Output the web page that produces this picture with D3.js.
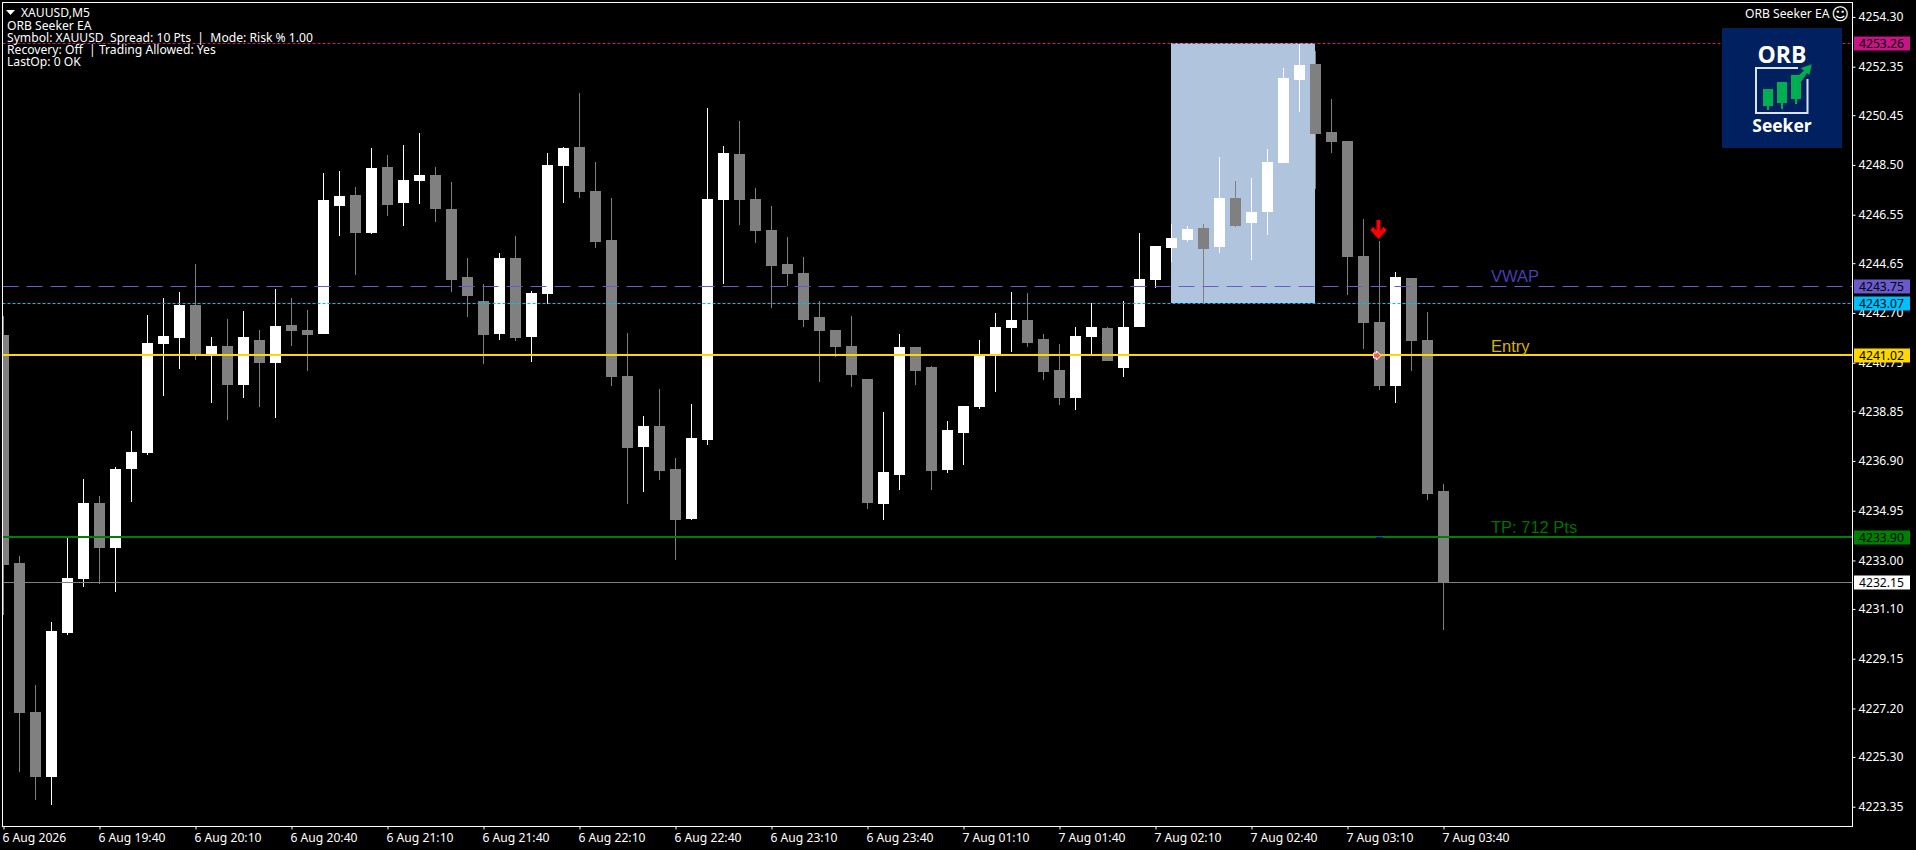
<!DOCTYPE html>
<html><head><meta charset="utf-8">
<script src="https://cdn.jsdelivr.net/npm/d3@7/dist/d3.min.js"></script>
<style>
html,body{margin:0;padding:0;background:#000;overflow:hidden}
svg{display:block}
text{white-space:pre}
.ui{font-family:"Noto Sans",sans-serif;font-size:12.15px;fill:#fff}
.tick text{font-family:"Noto Sans",sans-serif;font-size:12.15px;fill:#fff}
.lab{font-family:"Liberation Sans",Arial,sans-serif;font-size:16.5px}
</style></head><body><svg id="c" width="1916" height="850"></svg>
<script>
const priceTicks=[4254.30,4252.35,4250.45,4248.50,4246.55,4244.65,4242.70,4240.75,4238.85,4236.90,4234.95,4233.00,4231.10,4229.15,4227.20,4225.30,4223.35];
const timeTickIdx=[0,6,12,18,24,30,36,42,48,54,60,66,72,78,84,90];
const timeLabels=["6 Aug 2026","6 Aug 19:40","6 Aug 20:10","6 Aug 20:40","6 Aug 21:10","6 Aug 21:40","6 Aug 22:10","6 Aug 22:40","6 Aug 23:10","6 Aug 23:40","7 Aug 01:10","7 Aug 01:40","7 Aug 02:10","7 Aug 02:40","7 Aug 03:10","7 Aug 03:40"];
const open=[4241.84,4232.90,4227.06,4224.52,4230.16,4232.28,4235.25,4233.49,4236.59,4237.21,4241.48,4241.72,4243.01,4241.09,4241.41,4239.88,4241.64,4240.74,4242.23,4242.03,4241.88,4246.89,4247.32,4245.83,4248.42,4247.01,4247.87,4248.11,4246.77,4244.11,4243.17,4241.88,4244.85,4241.76,4243.44,4248.46,4249.20,4247.48,4245.56,4240.23,4237.45,4238.27,4236.59,4234.63,4237.72,4247.13,4248.93,4247.17,4245.95,4244.62,4244.27,4242.54,4242.03,4241.41,4240.11,4235.21,4236.35,4241.37,4240.58,4236.55,4238.00,4239.02,4241.01,4242.11,4242.42,4241.68,4240.47,4239.37,4241.76,4242.11,4240.54,4242.15,4243.99,4245.25,4245.56,4246.03,4245.29,4247.21,4246.23,4246.66,4248.58,4251.83,4252.46,4249.79,4249.44,4244.93,4242.35,4239.84,4244.07,4241.64,4235.72];
const high=[4242.58,4233.18,4228.12,4230.59,4233.88,4236.19,4235.53,4236.66,4238.08,4242.62,4243.29,4243.52,4244.62,4241.76,4242.46,4242.78,4242.03,4243.64,4243.29,4242.82,4248.18,4248.26,4247.64,4249.16,4248.89,4249.28,4249.75,4248.42,4247.83,4244.85,4243.83,4245.05,4245.72,4243.56,4248.97,4249.20,4251.32,4248.62,4247.21,4241.92,4238.66,4239.72,4237.02,4239.13,4250.73,4249.24,4250.22,4247.60,4246.89,4245.68,4244.89,4243.17,4242.03,4242.58,4240.11,4238.82,4241.88,4241.37,4240.62,4238.47,4239.05,4241.64,4242.70,4243.52,4243.48,4241.88,4241.48,4242.15,4243.09,4242.15,4243.17,4245.83,4245.32,4246.19,4246.11,4246.19,4248.81,4247.87,4247.99,4249.13,4252.30,4253.23,4252.97,4251.09,4249.44,4246.38,4245.52,4244.31,4244.07,4242.74,4236.00];
const low=[4230.87,4224.71,4223.62,4223.42,4230.08,4231.96,4232.08,4231.77,4235.29,4237.13,4239.45,4240.50,4240.86,4239.17,4238.51,4239.37,4239.02,4238.58,4241.41,4240.43,4241.88,4245.72,4244.19,4245.79,4246.50,4246.11,4246.97,4246.26,4243.52,4242.54,4240.70,4241.64,4241.60,4240.78,4243.05,4247.01,4247.21,4245.25,4239.84,4235.21,4235.68,4236.16,4233.02,4234.59,4237.53,4243.83,4246.15,4245.44,4242.90,4243.76,4242.15,4239.99,4240.97,4239.80,4235.02,4234.59,4235.76,4239.88,4235.76,4236.43,4236.74,4238.94,4239.60,4241.17,4241.37,4240.07,4239.09,4238.90,4241.09,4240.82,4240.19,4242.15,4243.68,4244.70,4245.48,4243.09,4245.05,4246.07,4244.78,4245.76,4248.58,4250.58,4247.56,4248.97,4243.40,4241.29,4239.68,4239.17,4240.43,4235.37,4230.28];
const close=[4232.82,4227.02,4224.52,4230.24,4232.31,4235.25,4233.49,4236.59,4237.25,4241.52,4241.80,4243.01,4241.09,4241.41,4239.88,4241.76,4240.74,4242.19,4241.99,4241.84,4247.13,4247.28,4245.83,4248.38,4246.93,4247.91,4248.11,4246.77,4243.99,4243.36,4241.84,4244.85,4241.72,4243.48,4248.50,4249.16,4247.44,4245.48,4240.19,4237.41,4238.25,4236.51,4234.59,4237.80,4247.17,4248.97,4247.13,4245.91,4244.54,4244.23,4242.42,4241.99,4241.37,4240.27,4235.25,4236.47,4241.37,4240.43,4236.51,4238.11,4239.05,4241.01,4242.15,4242.42,4241.52,4240.39,4239.37,4241.80,4242.15,4240.82,4242.15,4244.03,4245.32,4245.64,4245.99,4245.21,4247.21,4246.11,4246.66,4248.62,4251.91,4252.42,4249.71,4249.40,4244.89,4242.31,4239.84,4244.11,4241.60,4235.61,4232.15];
const levelPrices=[4253.26,4243.75,4243.07,4241.02,4233.90,4232.15];
const levelFlagColors=["#c71585","#6a5acd","#00bfff","#ffd700","#008000","#ffffff"];
const levelLineColors=["#c71585","#6a5acd","#00bfff","#ffd700","#008000","#808080"];
const levelWidths=[1,1,1,2,2,1];
const levelDashes=["3 2","16 8","3 2",null,null,null];
const levelTexts=["","VWAP","","Entry","TP: 712 Pts",""];
const levelTextColors=["","#4a3db0","","#d4b400","#007000",""];
const rangeBars=[73,82];
const rangeLow=4243.07,rangeHigh=4253.26;
const infoLines=["ORB Seeker EA","Symbol: XAUUSD  Spread: 10 Pts  |  Mode: Risk % 1.00","Recovery: Off  | Trading Allowed: Yes","LastOp: 0 OK"];

const W=1916,H=850,L=2.5,R=1852.5,T=2.5,B=826.5;
const svg=d3.select("#c");
svg.append("rect").attr("width",W).attr("height",H).attr("fill","#000");
const x=d3.scaleLinear().domain([0,90]).range([3.5,1443.5]);
const y=d3.scaleLinear().domain([4252.35,4223.35]).range([66.7,806.7]);
const ry=p=>Math.round(y(p));
const rowY=(p,w)=>Math.floor(y(p))+(w%2?.5:0);
svg.append("defs").append("clipPath").attr("id","plot").append("rect").attr("x",L).attr("y",T).attr("width",R-L).attr("height",B-T);
const plot=svg.append("g").attr("clip-path","url(#plot)");
// opening range box
plot.append("rect").attr("x",x(rangeBars[0])-.5).attr("width",x(rangeBars[1])-x(rangeBars[0]))
 .attr("y",rowY(rangeHigh,2)).attr("height",rowY(rangeLow,2)-rowY(rangeHigh,2)).attr("fill","#b0c4de");
// candles
const idx=d3.range(open.length);
const col=i=>close[i]>open[i]?"#ffffff":"#808080";
const g=plot.append("g").attr("shape-rendering","crispEdges");
g.selectAll(".w").data(idx).join("rect").attr("class","w")
 .attr("x",i=>x(i)-.5).attr("width",1)
 .attr("y",i=>ry(high[i])).attr("height",i=>ry(low[i])-ry(high[i])).attr("fill",col);
g.selectAll(".b").data(idx).join("rect").attr("class","b")
 .attr("x",i=>x(i)-5.5).attr("width",11)
 .attr("y",i=>ry(Math.max(open[i],close[i]))).attr("height",i=>Math.max(1,Math.abs(ry(open[i])-ry(close[i]))))
 .attr("fill",col);
// level lines
const lv=plot.append("g");
levelPrices.forEach((p,k)=>{
 const ly=rowY(p,levelWidths[k]);
 lv.append("line").attr("x1",L).attr("x2",R).attr("y1",ly).attr("y2",ly)
 .attr("stroke",levelLineColors[k]).attr("stroke-width",levelWidths[k]).attr("stroke-dasharray",levelDashes[k]);
 if(levelTexts[k]) svg.append("text").attr("class","lab").attr("x",1491).attr("y",ry(p)-4.5).attr("fill",levelTextColors[k]).text(levelTexts[k]);
});
// tp mark, entry marker and sell arrow
plot.append("rect").attr("x",1376).attr("width",7).attr("y",rowY(4233.90,2)).attr("height",1).attr("fill","#0000e0");
plot.append("path").attr("transform",`translate(1373.5,${rowY(4241.02,1)})`).attr("d","M0,-2.5 L3,-2.5 L3,-4.5 L7.5,0 L3,4.5 L3,2.5 L0,2.5 Z").attr("fill","#ff5a3c").attr("stroke","#fff").attr("stroke-width",1);
plot.append("path").attr("transform",`translate(1378.5,${ry(4245.6)})`).attr("d","M-2,-19 L2,-19 L2,-8 L5,-12.3 L8.3,-9 L0,0 L-8.3,-9 L-5,-12.3 L-2,-8 Z").attr("fill","#ff0000");
// frame
svg.append("rect").attr("x",L).attr("y",T).attr("width",R-L).attr("height",B-T).attr("fill","none").attr("stroke","#fff");
// axes
const ax=svg.append("g").attr("transform",`translate(${R},0)`).call(d3.axisRight(y).tickValues(priceTicks).tickFormat(d3.format(".2f")).tickSize(3).tickPadding(3));
ax.select(".domain").remove();ax.selectAll("line").attr("stroke","#fff");
ax.selectAll("text").attr("text-anchor","start");
const bx=svg.append("g").attr("transform",`translate(0,${B})`).call(d3.axisBottom(x).tickValues(timeTickIdx).tickFormat((d,i)=>timeLabels[i]).tickSize(3).tickPadding(4));
bx.select(".domain").remove();bx.selectAll("line").attr("stroke","#fff");
bx.selectAll("text").attr("text-anchor","start").attr("dx",-1.5);
// flags
levelPrices.forEach((p,k)=>{
 const c=rowY(p,1);
 svg.append("rect").attr("x",1854).attr("y",c-7).attr("width",56).attr("height",14).attr("fill",levelFlagColors[k]);
 svg.append("text").attr("class","ui").attr("x",1859).attr("y",c+4.5).style("fill","#000").text(p.toFixed(2));
});
// header
svg.append("path").attr("d","M6,10 L15,10 L10.5,15 Z").attr("fill","#fff");
svg.append("text").attr("class","ui").attr("x",21).attr("y",17).text("XAUUSD,M5");
infoLines.forEach((t,i)=>svg.append("text").attr("class","ui").attr("x",7).attr("y",30+12*i).text(t));
svg.append("text").attr("class","ui").attr("x",1745).attr("y",18).text("ORB Seeker EA");
svg.append("text").attr("x",1831.5).attr("y",19.5).attr("font-family","DejaVu Sans").attr("font-size",17).attr("fill","#fff").text("\u263A");
// logo
const lg=svg.append("g").attr("transform","translate(1722,28)");
lg.append("rect").attr("width",120).attr("height",120).attr("fill","#002060");
lg.append("text").attr("x",60).attr("y",34.5).attr("text-anchor","middle").attr("font-family","Open Sans").attr("font-weight",700).attr("font-size",23).attr("fill","#fff").text("ORB");
lg.append("path").attr("d","M76,40 L34,40 L34,85 L85.5,85 L85.5,51").attr("fill","none").attr("stroke","#dde3ee").attr("stroke-width",2);
[[41,61,78,82],[55,54,75,81],[69,47,71,76]].forEach(d=>{
 lg.append("rect").attr("x",d[0]).attr("y",d[1]).attr("width",10).attr("height",d[2]-d[1]).attr("fill","#00b050");
 lg.append("rect").attr("x",d[0]+4).attr("y",d[2]).attr("width",2).attr("height",d[3]-d[2]).attr("fill","#00b050");
});
lg.append("path").attr("d","M74,50 L82,42.5 L78.7,40.3 L89.7,36.3 L87.3,47 L85,45 L79,54 Z").attr("fill","#00b050");
lg.append("text").attr("x",60).attr("y",103.5).attr("text-anchor","middle").attr("font-family","Open Sans").attr("font-weight",700).attr("font-size",17.5).attr("fill","#fff").text("Seeker");
</script></body></html>
